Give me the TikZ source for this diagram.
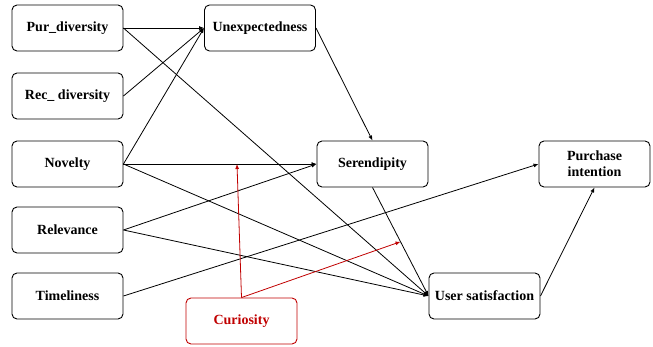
\documentclass[tikz,border=0pt]{standalone}
\usepackage{fontspec}
\setmainfont{Liberation Serif}
\usetikzlibrary{arrows.meta,calc}
\definecolor{darkred}{RGB}{192,0,0}
\begin{document}
\begin{tikzpicture}[x=1pt,y=-1pt,
  box/.style={draw,rounded corners=5pt,minimum width=111pt,minimum height=46pt,
    line width=0.9pt,font=\fontsize{14}{16}\selectfont\bfseries,align=center,inner sep=2pt},
  arr/.style={line width=0.8pt,-{Latex[length=5pt,width=4pt]}},
  redarr/.style={arr,draw=darkred}]
\useasboundingbox (0,0) rectangle (653,347);
\node[box] (pur) at (67.5,28) {Pur\_diversity};
\node[box] (rec) at (67.5,96) {Rec\_ diversity};
\node[box] (nov) at (67.5,164) {Novelty};
\node[box] (rel) at (67.5,230) {Relevance};
\node[box] (tim) at (67.5,296) {Timeliness};
\node[box,draw=darkred,text=darkred] (cur) at (241.5,321) {Curiosity};
\node[box] (une) at (260,28) {Unexpectedness};
\node[box] (ser) at (372.5,164) {Serendipity};
\node[box] (pi) at (594.5,164) {Purchase\\intention};
\node[box] (us) at (484.5,296) {User satisfaction};
\draw[arr] (pur.east) -- (une.west);
\draw[arr] (pur.east) -- (us.west);
\draw[arr] (rec.east) -- (une.west);
\draw[arr] (nov.east) -- (une.west);
\draw[arr] (nov.east) -- (ser.west);
\draw[arr] (nov.east) -- (us.west);
\draw[arr] (rel.east) -- (ser.west);
\draw[arr] (rel.east) -- (us.west);
\draw[arr] (tim.east) -- (pi.west);
\draw[arr] (une.east) -- (ser.north);
\draw[arr] (ser.south) -- (us.west);
\draw[arr] (us.east) -- (pi.south);
\coordinate (m1) at ($(nov.east)!0.588!(ser.west)$);
\coordinate (m2) at ($(ser.south)!0.5!(us.west)$);
\draw[redarr] (cur.north) -- (m1);
\draw[redarr] (cur.north) -- (m2);
\end{tikzpicture}
\end{document}
